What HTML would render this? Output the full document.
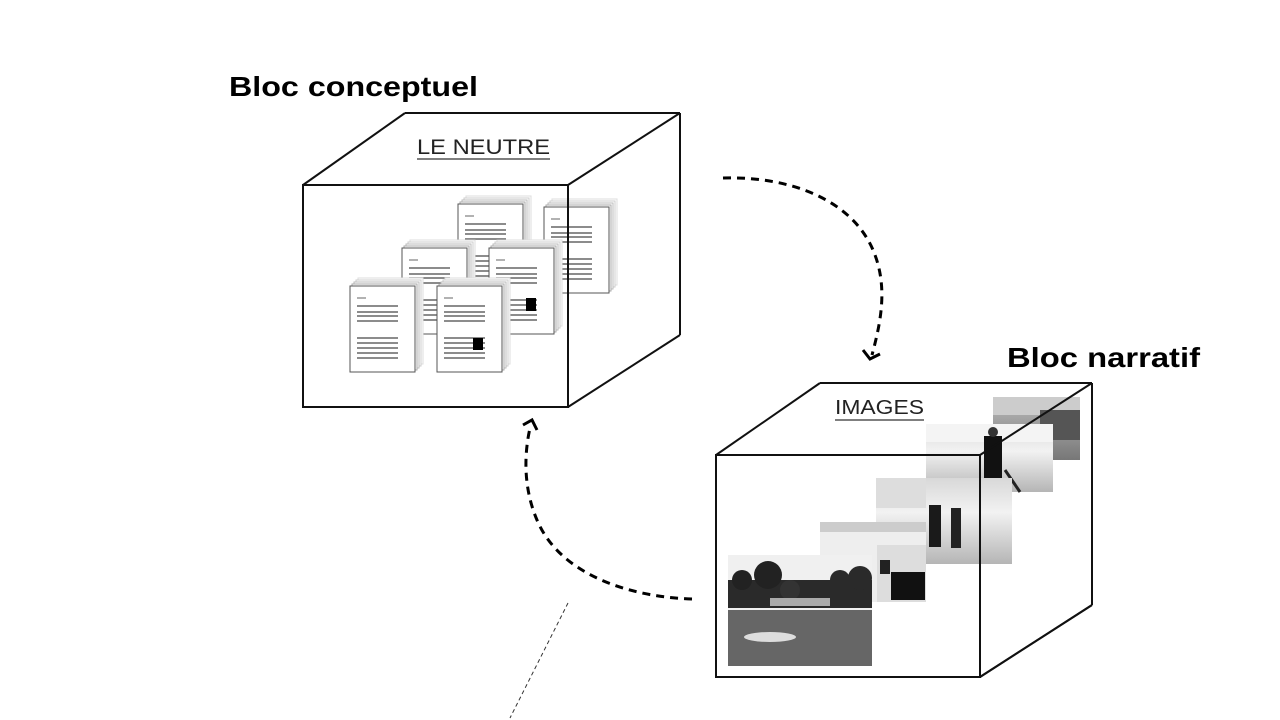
<!DOCTYPE html>
<html><head><meta charset="utf-8"><style>
html,body{margin:0;padding:0;background:#fff;}
svg{display:block;}
text{font-family:"Liberation Sans",Arial,sans-serif;}
</style></head><body>
<svg width="1280" height="720" viewBox="0 0 1280 720" xmlns="http://www.w3.org/2000/svg">
<defs>
  <g id="pg">
    <rect x="0" y="0" width="65" height="86" fill="#fff" stroke="#555" stroke-width="1"/>
    <g stroke="#666" stroke-width="1.6">
      <line x1="7" y1="12" x2="16" y2="12" stroke-width="1"/>
      <line x1="7" y1="20" x2="48" y2="20"/>
      <line x1="7" y1="26" x2="48" y2="26"/>
      <line x1="7" y1="30" x2="48" y2="30"/>
      <line x1="7" y1="35" x2="48" y2="35"/>
      <line x1="7" y1="52" x2="48" y2="52"/>
      <line x1="7" y1="57" x2="48" y2="57"/>
      <line x1="7" y1="62" x2="48" y2="62"/>
      <line x1="7" y1="67" x2="48" y2="67"/>
      <line x1="7" y1="72" x2="48" y2="72"/>
    </g>
  </g>
  <g id="stk">
    <rect x="8" y="-8" width="65" height="86" fill="#fff" stroke="#ddd"/>
    <rect x="6" y="-6" width="65" height="86" fill="#fff" stroke="#ccc"/>
    <rect x="4" y="-4" width="65" height="86" fill="#fff" stroke="#bbb"/>
    <rect x="2" y="-2" width="65" height="86" fill="#fff" stroke="#aaa"/>
    <use href="#pg"/>
  </g>
  <linearGradient id="sand" x1="0" y1="0" x2="0" y2="1">
    <stop offset="0" stop-color="#d8d8d8"/><stop offset="0.4" stop-color="#f2f2f2"/><stop offset="1" stop-color="#b5b5b5"/>
  </linearGradient>
  <linearGradient id="land" x1="0" y1="0" x2="0" y2="1">
    <stop offset="0" stop-color="#bbb"/><stop offset="0.5" stop-color="#999"/><stop offset="1" stop-color="#777"/>
  </linearGradient>
</defs>

<!-- Left cube -->
<g fill="none" stroke="#111" stroke-width="2">
  <line x1="303" y1="185" x2="405" y2="113"/>
  <line x1="405" y1="113" x2="680" y2="113"/>
  <line x1="680" y1="113" x2="680" y2="335"/>
  <line x1="680" y1="335" x2="568" y2="407"/>
  <line x1="568" y1="185" x2="680" y2="113"/>
</g>
<text x="417" y="154" font-size="21" fill="#222" textLength="133" lengthAdjust="spacingAndGlyphs">LE NEUTRE</text>
<line x1="417" y1="159" x2="550" y2="159" stroke="#555" stroke-width="1.5"/>

<use href="#stk" transform="translate(544,207)"/>
<use href="#stk" transform="translate(458,204)"/>
<use href="#stk" transform="translate(402,248)"/>
<use href="#stk" transform="translate(489,248)"/>
<rect x="526" y="298" width="10" height="13" fill="#000"/>
<use href="#stk" transform="translate(350,286)"/>
<use href="#stk" transform="translate(437,286)"/>
<rect x="473" y="338" width="10" height="12" fill="#000"/>

<rect x="303" y="185" width="265" height="222" fill="none" stroke="#111" stroke-width="2"/>

<!-- Right cube -->
<g fill="none" stroke="#111" stroke-width="2">
  <line x1="716" y1="455" x2="820" y2="383"/>
  <line x1="820" y1="383" x2="1092" y2="383"/>
  <line x1="1092" y1="383" x2="1092" y2="605"/>
  <line x1="1092" y1="605" x2="980" y2="677"/>
</g>
<text x="835" y="414" font-size="20" fill="#222" textLength="89" lengthAdjust="spacingAndGlyphs">IMAGES</text>
<line x1="835" y1="420" x2="924" y2="420" stroke="#555" stroke-width="1.5"/>

<!-- photos -->
<rect x="993" y="397" width="87" height="63" fill="url(#land)"/>
<rect x="993" y="397" width="87" height="18" fill="#ccc"/>
<rect x="1040" y="410" width="40" height="30" fill="#555"/>
<rect x="926" y="424" width="127" height="68" fill="url(#sand)"/>
<rect x="926" y="424" width="127" height="18" fill="#f4f4f4"/>
<rect x="984" y="436" width="18" height="42" fill="#111"/>
<circle cx="993" cy="432" r="5" fill="#333"/>
<line x1="1005" y1="470" x2="1020" y2="492" stroke="#222" stroke-width="3"/>
<rect x="876" y="478" width="136" height="86" fill="url(#sand)"/>
<rect x="876" y="478" width="50" height="30" fill="#ddd"/>
<rect x="929" y="505" width="12" height="42" fill="#1a1a1a"/>
<rect x="951" y="508" width="10" height="40" fill="#222"/>
<rect x="820" y="522" width="106" height="80" fill="#eee"/>
<rect x="820" y="522" width="106" height="10" fill="#ccc"/>
<rect x="877" y="545" width="49" height="57" fill="#ddd"/>
<rect x="891" y="572" width="34" height="28" fill="#111"/>
<rect x="880" y="560" width="10" height="14" fill="#222"/>
<rect x="728" y="555" width="144" height="111" fill="#f0f0f0"/>
<rect x="728" y="580" width="144" height="28" fill="#2a2a2a"/>
<circle cx="742" cy="580" r="10" fill="#222"/>
<circle cx="768" cy="575" r="14" fill="#222"/>
<circle cx="790" cy="590" r="10" fill="#333"/>
<circle cx="840" cy="580" r="10" fill="#2a2a2a"/>
<circle cx="860" cy="578" r="12" fill="#2a2a2a"/>
<rect x="770" y="598" width="60" height="8" fill="#aaa"/>
<rect x="728" y="610" width="144" height="56" fill="#666"/>
<ellipse cx="770" cy="637" rx="26" ry="5" fill="#ddd"/>

<rect x="716" y="455" width="264" height="222" fill="none" stroke="#111" stroke-width="2"/>
<line x1="980" y1="455" x2="1092" y2="383" stroke="#111" stroke-width="2"/>
<line x1="980" y1="677" x2="1092" y2="605" stroke="#111" stroke-width="2"/>

<!-- arrows -->
<path d="M723,178 C790,176 855,200 875,255 C888,290 880,325 872,355" fill="none" stroke="#000" stroke-width="3" stroke-dasharray="8,6"/>
<path d="M863,350 L870,359 L880,354" fill="none" stroke="#000" stroke-width="3"/>
<path d="M692,599 C630,597 560,575 537,520 C522,485 525,450 530,428" fill="none" stroke="#000" stroke-width="3" stroke-dasharray="8,6"/>
<path d="M523,425 L532,420 L537,430" fill="none" stroke="#000" stroke-width="3"/>
<line x1="568" y1="603" x2="510" y2="718" stroke="#333" stroke-width="1" stroke-dasharray="4,3"/>

<text x="229" y="96" font-size="28" font-weight="bold" fill="#000" textLength="249" lengthAdjust="spacingAndGlyphs">Bloc conceptuel</text>
<text x="1007" y="367" font-size="28" font-weight="bold" fill="#000" textLength="193" lengthAdjust="spacingAndGlyphs">Bloc narratif</text>
</svg>
</body></html>
